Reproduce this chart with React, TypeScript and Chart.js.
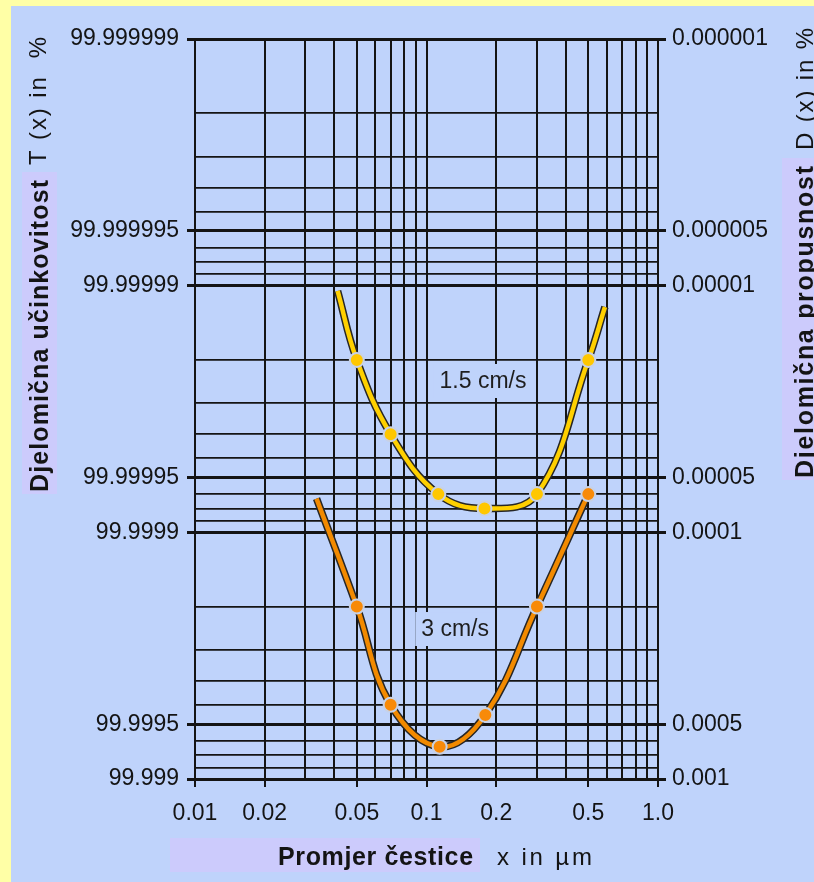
import React, { useEffect, useRef } from 'react';
import { Chart, registerables } from 'chart.js';

Chart.register(...registerables);

// ---- data ----
// particle size x in µm, penetration D(x) in %
const sizes15 = [0.0413, 0.05, 0.07, 0.1125, 0.178, 0.3, 0.5, 0.59];
const pen15 = [0.0000105, 0.00002, 0.00004, 0.00007, 0.00008, 0.00007, 0.00002, 0.0000122];
const marks15 = [false, true, true, true, true, true, true, false];

const sizes3 = [0.0335, 0.05, 0.07, 0.114, 0.1795, 0.3, 0.5];
const pen3 = [0.000073, 0.0002, 0.0005, 0.00074, 0.00055, 0.0002, 0.00007];
const marks3 = [false, true, true, true, true, true, true];

const seriesNames = ['1.5 cm/s', '3 cm/s'];

const xGridValues = [0.01, 0.02, 0.03, 0.04, 0.05, 0.06, 0.07, 0.08, 0.09, 0.1, 0.2, 0.3, 0.4, 0.5, 0.6, 0.7, 0.8, 0.9, 1.0];
const xLabelValues = [0.01, 0.02, 0.05, 0.1, 0.2, 0.5, 1.0];
const xLabels = ['0.01', '0.02', '0.05', '0.1', '0.2', '0.5', '1.0'];

const yGridValues = [
  0.000001, 0.000002, 0.000003, 0.000004, 0.000005, 0.000006, 0.000007, 0.000008, 0.000009,
  0.00001, 0.00002, 0.00003, 0.00004, 0.00005, 0.00006, 0.00007, 0.00008, 0.00009,
  0.0001, 0.0002, 0.0003, 0.0004, 0.0005, 0.0006, 0.0007, 0.0008, 0.0009,
  0.001,
];
const yLabelValues = [0.000001, 0.000006, 0.00001, 0.00006, 0.0001, 0.0006, 0.001];
const efficiencyLabels = ['99.999999', '99.999995', '99.99999', '99.99995', '99.9999', '99.9995', '99.999'];
const penetrationLabels = ['0.000001', '0.000005', '0.00001', '0.00005', '0.0001', '0.0005', '0.001'];

// curve label anchors (data coords)
const curveLabelX = [0.1754, 0.1329];
const curveLabelY = [0.00002435, 0.0002466];

// ---- styling ----
const BLUE = '#bfd3fb';
const YELLOW = '#ffffa6';
const LAVENDER = '#cccbfc';
const INK = '#141414';
const FONT = '"Liberation Sans", Arial, Helvetica, sans-serif';

const near = (a: number, b: number) => Math.abs(a / b - 1) < 1e-6;
const idxIn = (arr: number[], v: number) => arr.findIndex((a) => near(a, v));

function drawSpaced(
  ctx: CanvasRenderingContext2D,
  text: string,
  x: number,
  y: number,
  font: string,
  targetLen: number,
  rotate: boolean
) {
  ctx.save();
  ctx.translate(x, y);
  if (rotate) ctx.rotate(-Math.PI / 2);
  ctx.font = font;
  (ctx as any).letterSpacing = '0px';
  const w = ctx.measureText(text).width;
  let ls = (targetLen - w) / Math.max(1, text.length - 1);
  if (ls < -1) ls = -1;
  (ctx as any).letterSpacing = ls.toFixed(2) + 'px';
  ctx.textAlign = 'left';
  ctx.textBaseline = 'alphabetic';
  ctx.fillStyle = INK;
  ctx.fillText(text, 0, 0);
  ctx.restore();
}

const backgroundPlugin = {
  id: 'bgPlugin',
  beforeDraw(chart: any) {
    const { ctx, width, height } = chart;
    ctx.save();
    ctx.fillStyle = BLUE;
    ctx.fillRect(0, 0, width, height);
    ctx.fillStyle = YELLOW;
    ctx.fillRect(0, 0, 11, height);
    ctx.fillRect(0, 0, width, 6);
    ctx.restore();
  },
};

const curveLabelPlugin = {
  id: 'curveLabels',
  beforeDatasetsDraw(chart: any) {
    const { ctx } = chart;
    const xs = chart.scales.x;
    const ys = chart.scales.y;
    ctx.save();
    ctx.font = `23px ${FONT}`;
    seriesNames.forEach((name, i) => {
      const px = xs.getPixelForValue(curveLabelX[i]);
      const py = ys.getPixelForValue(curveLabelY[i]);
      const w = ctx.measureText(name).width;
      ctx.fillStyle = BLUE;
      ctx.fillRect(px - w / 2 - 6, py - 17, w + 12, 34);
      ctx.fillStyle = '#1e1e1e';
      ctx.textAlign = 'center';
      ctx.textBaseline = 'middle';
      ctx.fillText(name, px, py + 1);
    });
    ctx.restore();
  },
};

const titlesPlugin = {
  id: 'titles',
  afterDraw(chart: any) {
    const { ctx } = chart;
    ctx.save();
    // left
    ctx.fillStyle = LAVENDER;
    ctx.fillRect(22, 172, 35, 322);
    drawSpaced(ctx, 'Djelomična učinkovitost', 48, 492, `bold 25px ${FONT}`, 312, true);
    drawSpaced(ctx, 'T (x) in  %', 46, 165, `24px ${FONT}`, 128, true);
    // right
    ctx.fillStyle = LAVENDER;
    ctx.fillRect(782, 158, 32, 322);
    drawSpaced(ctx, 'Djelomična propusnost', 813, 478, `bold 25px ${FONT}`, 312, true);
    drawSpaced(ctx, 'D (x) in %', 813, 150, `24px ${FONT}`, 122, true);
    // bottom
    ctx.fillStyle = LAVENDER;
    ctx.fillRect(170, 838, 310, 34);
    drawSpaced(ctx, 'Promjer čestice', 278, 865, `bold 25px ${FONT}`, 195, false);
    drawSpaced(ctx, 'x in µm', 497, 865, `24px ${FONT}`, 95, false);
    ctx.restore();
  },
};

export default function App() {
  const canvasRef = useRef<HTMLCanvasElement | null>(null);

  useEffect(() => {
    if (!canvasRef.current) return;

    const mk = (xs: number[], ys: number[]) => xs.map((x, i) => ({ x, y: ys[i] }));

    const tickFont = { family: FONT, size: 23 };

    const chart = new Chart(canvasRef.current, {
      type: 'line',
      data: {
        datasets: [
          {
            label: seriesNames[0],
            data: mk(sizes15, pen15),
            borderColor: '#ffd000',
            borderWidth: 4.5,
            tension: 0.4,
            pointRadius: marks15.map((m) => (m ? 7 : 0)),
            pointBackgroundColor: '#ffc700',
            pointBorderColor: '#c8d1e4',
            pointBorderWidth: 2,
            order: 1,
          },
          {
            label: seriesNames[1],
            data: mk(sizes3, pen3),
            borderColor: '#f28a00',
            borderWidth: 4.5,
            tension: 0.4,
            pointRadius: marks3.map((m) => (m ? 7 : 0)),
            pointBackgroundColor: '#f88a08',
            pointBorderColor: '#c8d1e4',
            pointBorderWidth: 2,
            order: 1,
          },
          {
            label: 'outline1',
            data: mk(sizes15, pen15),
            borderColor: '#262626',
            borderWidth: 7.5,
            tension: 0.4,
            pointRadius: 0,
            order: 2,
          },
          {
            label: 'outline2',
            data: mk(sizes3, pen3),
            borderColor: '#262626',
            borderWidth: 7.5,
            tension: 0.4,
            pointRadius: 0,
            order: 2,
          },
        ],
      },
      options: {
        responsive: false,
        animation: false,
        events: [],
        layout: { padding: { top: 39, left: 0, right: 0, bottom: 0 } },
        plugins: {
          legend: { display: false },
          tooltip: { enabled: false },
          title: { display: false },
        },
        scales: {
          x: {
            type: 'logarithmic',
            position: 'bottom',
            min: 0.01,
            max: 1,
            afterBuildTicks: (s: any) => {
              s.ticks = xGridValues.map((v) => ({ value: v }));
            },
            afterFit: (s: any) => {
              s.height = 103;
            },
            ticks: {
              autoSkip: false,
              maxRotation: 0,
              minRotation: 0,
              padding: 13,
              color: INK,
              font: tickFont,
              callback: (v: any) => {
                const i = idxIn(xLabelValues, Number(v));
                return i >= 0 ? xLabels[i] : '';
              },
            },
            grid: {
              color: INK,
              lineWidth: 2,
              tickLength: 8,
              tickWidth: 2,
              tickColor: (c: any) =>
                c.tick && idxIn(xLabelValues, c.tick.value) >= 0 ? INK : 'rgba(0,0,0,0)',
            },
            border: { display: false },
          },
          y: {
            type: 'logarithmic',
            position: 'left',
            reverse: true,
            min: 0.000001,
            max: 0.001,
            afterBuildTicks: (s: any) => {
              s.ticks = yGridValues.map((v) => ({ value: v }));
            },
            afterFit: (s: any) => {
              s.width = 195;
            },
            ticks: {
              autoSkip: false,
              padding: 8,
              color: INK,
              font: tickFont,
              callback: (v: any) => {
                const i = idxIn(yLabelValues, Number(v));
                return i >= 0 ? efficiencyLabels[i] : '';
              },
            },
            grid: {
              color: INK,
              lineWidth: (c: any) => (c.tick && idxIn(yLabelValues, c.tick.value) >= 0 ? 3 : 1.8),
              tickLength: 8,
              tickWidth: 3,
              tickColor: (c: any) =>
                c.tick && idxIn(yLabelValues, c.tick.value) >= 0 ? INK : 'rgba(0,0,0,0)',
            },
            border: { display: false },
          },
          y2: {
            type: 'logarithmic',
            position: 'right',
            reverse: true,
            min: 0.000001,
            max: 0.001,
            afterBuildTicks: (s: any) => {
              s.ticks = yGridValues.map((v) => ({ value: v }));
            },
            afterFit: (s: any) => {
              s.width = 156;
            },
            ticks: {
              autoSkip: false,
              padding: 6,
              color: INK,
              font: tickFont,
              callback: (v: any) => {
                const i = idxIn(yLabelValues, Number(v));
                return i >= 0 ? penetrationLabels[i] : '';
              },
            },
            grid: {
              drawOnChartArea: false,
              color: INK,
              tickLength: 8,
              tickWidth: 3,
              tickColor: (c: any) =>
                c.tick && idxIn(yLabelValues, c.tick.value) >= 0 ? INK : 'rgba(0,0,0,0)',
            },
            border: { display: false },
          },
        },
      } as any,
      plugins: [backgroundPlugin, curveLabelPlugin, titlesPlugin],
    });

    return () => chart.destroy();
  }, []);

  return (
    <div style={{ position: 'fixed', left: 0, top: 0, width: 814, height: 882, background: BLUE }}>
      <canvas ref={canvasRef} width={814} height={882} style={{ display: 'block', width: 814, height: 882 }} />
    </div>
  );
}
